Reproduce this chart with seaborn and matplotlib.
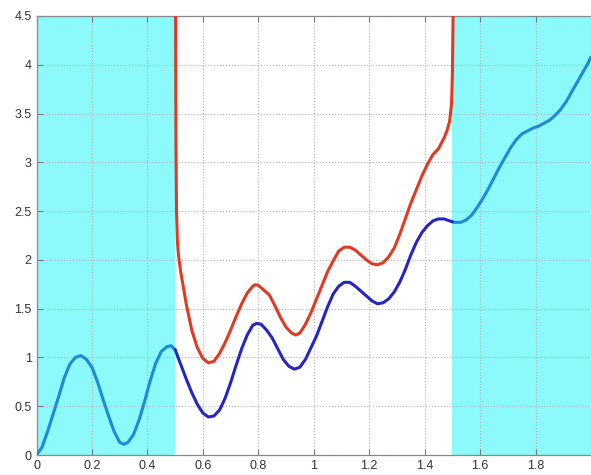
import matplotlib
matplotlib.use("Agg")
import matplotlib.pyplot as plt
import seaborn as sns
import pandas as pd

# Outer segment, left part (0 .. 0.5)
x_left = [0.00, 0.02, 0.04, 0.06, 0.08, 0.10, 0.12, 0.14, 0.16, 0.18, 0.20, 0.22,
          0.24, 0.26, 0.28, 0.30, 0.315, 0.33, 0.35, 0.37, 0.39, 0.41, 0.43, 0.45,
          0.47, 0.485, 0.50]
y_left = [0.00, 0.08, 0.24, 0.42, 0.60, 0.79, 0.93, 1.00, 1.02, 0.98, 0.90, 0.75,
          0.57, 0.40, 0.24, 0.13, 0.11, 0.13, 0.21, 0.36, 0.55, 0.76, 0.94, 1.06,
          1.11, 1.12, 1.08]

# Outer segment, right part (1.5 .. 2)
x_right = [1.50, 1.51, 1.53, 1.55, 1.57, 1.59, 1.61, 1.63, 1.65, 1.67, 1.69, 1.71,
           1.73, 1.75, 1.77, 1.79, 1.81, 1.83, 1.85, 1.87, 1.89, 1.91, 1.93, 1.95,
           1.97, 1.99, 2.00]
y_right = [2.39, 2.385, 2.385, 2.41, 2.46, 2.54, 2.63, 2.73, 2.84, 2.95, 3.05, 3.15,
           3.23, 3.29, 3.32, 3.35, 3.37, 3.40, 3.43, 3.48, 3.54, 3.62, 3.72, 3.82,
           3.92, 4.02, 4.08]

# Inner solution (0.5 .. 1.5)
x_mid = [0.50, 0.52, 0.54, 0.56, 0.58, 0.60, 0.62, 0.64, 0.66, 0.68, 0.70, 0.72,
         0.74, 0.76, 0.78, 0.795, 0.81, 0.83, 0.85, 0.87, 0.89, 0.91, 0.93, 0.95,
         0.97, 0.99, 1.01, 1.03, 1.05, 1.07, 1.09, 1.11, 1.13, 1.15, 1.17, 1.19,
         1.21, 1.23, 1.25, 1.27, 1.29, 1.31, 1.33, 1.35, 1.37, 1.39, 1.41, 1.43,
         1.45, 1.47, 1.49, 1.50]
y_mid = [1.08, 0.93, 0.78, 0.64, 0.52, 0.43, 0.39, 0.40, 0.46, 0.58, 0.74, 0.92,
         1.09, 1.23, 1.33, 1.35, 1.34, 1.28, 1.20, 1.09, 0.98, 0.91, 0.88, 0.90,
         0.98, 1.10, 1.22, 1.37, 1.52, 1.65, 1.73, 1.77, 1.77, 1.73, 1.68, 1.63,
         1.58, 1.55, 1.56, 1.60, 1.67, 1.77, 1.90, 2.05, 2.18, 2.28, 2.35, 2.40,
         2.42, 2.42, 2.40, 2.39]

# Upper bound, blowing up at both interval ends
x_upper = [0.5015, 0.503, 0.505, 0.508, 0.512, 0.52, 0.54, 0.56, 0.58, 0.60, 0.62,
           0.64, 0.66, 0.68, 0.70, 0.72, 0.74, 0.76, 0.78, 0.79, 0.80, 0.82, 0.84,
           0.86, 0.88, 0.90, 0.92, 0.935, 0.95, 0.97, 0.99, 1.01, 1.03, 1.05, 1.07,
           1.09, 1.11, 1.13, 1.15, 1.17, 1.19, 1.21, 1.23, 1.25, 1.27, 1.29, 1.31,
           1.33, 1.35, 1.37, 1.39, 1.41, 1.43, 1.45, 1.47, 1.48, 1.49, 1.497, 1.500,
           1.503]
y_upper = [4.60, 3.20, 2.50, 2.20, 2.05, 1.88, 1.55, 1.28, 1.10, 0.99, 0.945,
           0.96, 1.04, 1.15, 1.28, 1.42, 1.55, 1.66, 1.73, 1.745, 1.74, 1.69, 1.64,
           1.53, 1.41, 1.31, 1.25, 1.23, 1.25, 1.34, 1.46, 1.60, 1.74, 1.88, 1.99,
           2.09, 2.13, 2.13, 2.10, 2.05, 2.00, 1.96, 1.95, 1.97, 2.03, 2.12, 2.26,
           2.42, 2.58, 2.72, 2.86, 2.98, 3.08, 3.14, 3.25, 3.32, 3.42, 3.60, 3.90,
           4.60]

x_ticks = [0, 0.2, 0.4, 0.6, 0.8, 1.0, 1.2, 1.4, 1.6, 1.8]
x_tick_labels = ["0", "0.2", "0.4", "0.6", "0.8", "1", "1.2", "1.4", "1.6", "1.8"]
y_ticks = [0, 0.5, 1, 1.5, 2, 2.5, 3, 3.5, 4, 4.5]
y_tick_labels = ["0", "0.5", "1", "1.5", "2", "2.5", "3", "3.5", "4", "4.5"]
shaded_spans = [(0.0, 0.5), (1.5, 2.0)]

sns.set_style("white")
plt.rcParams["font.family"] = ["Liberation Sans", "DejaVu Sans"]

fig = plt.figure(figsize=(5.91, 4.75), dpi=100)
ax = fig.add_axes([36.5 / 591, 20 / 475, 1 - 36.5 / 591, 439 / 475])

for a, b in shaded_spans:
    ax.axvspan(a, b, color="#8cf9fb", zorder=0.2, lw=0)

ax.set_axisbelow(True)
ax.grid(True, linestyle=":", color="#b4b4b4", linewidth=0.8)

light = "#1c8ad8"
curves = [
    (x_left, y_left, light),
    (x_right, y_right, light),
    (x_upper, y_upper, "#e03a22"),
    (x_mid, y_mid, "#2525c4"),
]
for xs, ys, col in curves:
    df = pd.DataFrame({"x": xs, "y": ys})
    sns.lineplot(data=df, x="x", y="y", ax=ax, color=col, linewidth=2.2,
                 sort=False, estimator=None, zorder=3,
                 solid_joinstyle="round", solid_capstyle="round")

ax.set_xlim(0, 2)
ax.set_ylim(0, 4.5)
ax.set_xticks(x_ticks)
ax.set_xticklabels(x_tick_labels)
ax.set_yticks(y_ticks)
ax.set_yticklabels(y_tick_labels)
ax.set_xlabel("")
ax.set_ylabel("")
ax.tick_params(direction="in", length=4, width=0.8, color="#7a7a7a",
               labelsize=9, labelcolor="#333333", top=True, right=False,
               bottom=True, left=True, pad=3.5)

for side in ["left", "bottom", "top"]:
    ax.spines[side].set_color("#8a8a8a")
    ax.spines[side].set_linewidth(0.9)
ax.spines["right"].set_visible(False)

fig.savefig("out.png", dpi=100)
